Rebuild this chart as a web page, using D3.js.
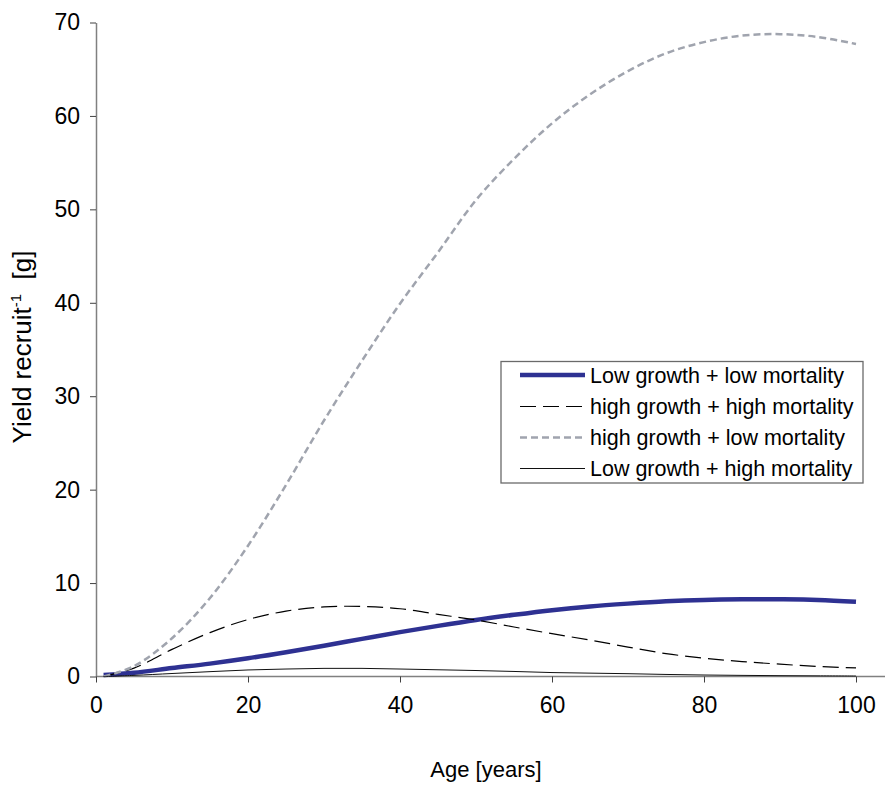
<!DOCTYPE html>
<html>
<head>
<meta charset="utf-8">
<script src="https://cdn.jsdelivr.net/npm/d3@7/dist/d3.min.js"></script>
<style>
  html, body { margin: 0; padding: 0; background: #fff; }
  svg { display: block; font-family: "Liberation Sans", Arial, sans-serif; }
</style>
</head>
<body>
<svg id="chart" width="887" height="785"></svg>
<script>
// ---- Data ----
const ages = [1, 5, 10, 15, 20, 25, 30, 35, 40, 45, 50, 55, 60, 65, 70, 75, 80, 85, 90, 95, 100];
const lowGrowthLowMort   = [0.15, 0.4, 0.9, 1.38, 1.95, 2.6, 3.3, 4.03, 4.75, 5.42, 6.05, 6.6, 7.1, 7.5, 7.8, 8.05, 8.2, 8.26, 8.26, 8.2, 8.0];
const highGrowthHighMort = [0.0, 0.9, 2.9, 4.7, 6.1, 7.0, 7.45, 7.5, 7.25, 6.65, 6.05, 5.3, 4.58, 3.9, 3.15, 2.45, 1.96, 1.6, 1.32, 1.08, 0.92];
const highGrowthLowMort  = [0.0, 1.1, 4.1, 8.4, 14.0, 20.5, 27.4, 33.8, 39.9, 45.4, 51.0, 55.4, 59.2, 62.3, 64.8, 66.7, 67.9, 68.6, 68.75, 68.45, 67.7];
const lowGrowthHighMort  = [0.0, 0.12, 0.32, 0.52, 0.7, 0.8, 0.87, 0.87, 0.8, 0.72, 0.64, 0.54, 0.42, 0.36, 0.3, 0.22, 0.16, 0.12, 0.09, 0.07, 0.05];
const seriesNames = ["Low growth + low mortality", "high growth + high mortality", "high growth + low mortality", "Low growth + high mortality"];
const xTicks = [0, 20, 40, 60, 80, 100];
const yTicks = [0, 10, 20, 30, 40, 50, 60, 70];

const series = [
  { name: seriesNames[0], values: lowGrowthLowMort,   color: "#2E3192", width: 4.5, dash: null },
  { name: seriesNames[1], values: highGrowthHighMort, color: "#000000", width: 1.2, dash: "16,7" },
  { name: seriesNames[2], values: highGrowthLowMort,  color: "#A0A4AE", width: 2.5, dash: "7,4" },
  { name: seriesNames[3], values: lowGrowthHighMort,  color: "#111111", width: 1,   dash: null }
];

const svg = d3.select("#chart");
const x = d3.scaleLinear().domain([0, 100]).range([96, 856]);
const y = d3.scaleLinear().domain([0, 70]).range([676.5, 22.5]);

// Axes
const yAxis = svg.append("g").attr("transform", "translate(96,0)")
  .call(d3.axisLeft(y).tickValues(yTicks).tickSize(6).tickSizeOuter(0).tickPadding(10));
const xAxis = svg.append("g").attr("transform", "translate(0,676.5)")
  .call(d3.axisBottom(x).tickValues(xTicks).tickSize(6).tickSizeOuter(0).tickPadding(14));
xAxis.select(".domain").attr("d", "M96,0H885");

[yAxis, xAxis].forEach(g => {
  g.select(".domain").attr("stroke", "#808080").attr("stroke-width", 1.5);
  g.selectAll(".tick line").attr("stroke", "#404040").attr("stroke-width", 1);
  g.selectAll(".tick text").attr("fill", "#000").style("font-size", "23px")
    .style("font-family", "'Liberation Sans', Arial, sans-serif");
});

// Lines
const line = d3.line().curve(d3.curveCatmullRom.alpha(0.5))
  .x(d => x(d[0])).y(d => y(d[1]));

series.forEach(s => {
  svg.append("path")
    .datum(ages.map((a, i) => [a, s.values[i]]))
    .attr("d", line)
    .attr("fill", "none")
    .attr("stroke", s.color)
    .attr("stroke-width", s.width)
    .attr("stroke-dasharray", s.dash)
    .attr("stroke-linejoin", "round");
});

// Axis titles
svg.append("text")
  .attr("x", 486).attr("y", 777)
  .attr("text-anchor", "middle")
  .style("font-size", "22px")
  .text("Age [years]");

const yt = svg.append("text")
  .attr("transform", "translate(31,347) rotate(-90)")
  .attr("text-anchor", "middle")
  .style("font-size", "26px");
yt.append("tspan").text("Yield recruit");
yt.append("tspan").attr("dy", -10).style("font-size", "15px").text("-1");
yt.append("tspan").attr("dy", 10).text("\u00a0\u00a0[g]");

// Legend
const lg = svg.append("g");
lg.append("rect")
  .attr("x", 501).attr("y", 361.5).attr("width", 362).attr("height", 121.5)
  .attr("fill", "#fff").attr("stroke", "#6a6a6a").attr("stroke-width", 1.3);
const rowY = [375, 406.5, 437.5, 468.5];
series.forEach((s, i) => {
  lg.append("line")
    .attr("x1", 520).attr("x2", 585)
    .attr("y1", rowY[i]).attr("y2", rowY[i])
    .attr("stroke", s.color).attr("stroke-width", s.width)
    .attr("stroke-dasharray", s.dash);
  lg.append("text")
    .attr("x", 590).attr("y", rowY[i]).attr("dy", "0.35em")
    .style("font-size", "21.5px")
    .text(s.name);
});
</script>
</body>
</html>
